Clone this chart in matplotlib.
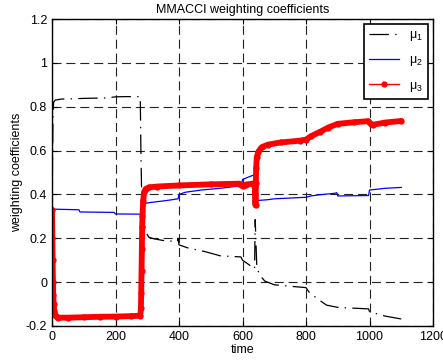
import matplotlib
matplotlib.use("Agg")
import matplotlib.pyplot as plt
import numpy as np

plt.rcParams['font.family'] = ['Liberation Sans', 'DejaVu Sans']
plt.rcParams['mathtext.fontset'] = 'custom'
plt.rcParams['mathtext.rm'] = 'Liberation Sans'
plt.rcParams['mathtext.it'] = 'Liberation Sans'
plt.rcParams['lines.scale_dashes'] = False

# mu_1 (black, dash-dot)
t1 = [0, 2, 3, 5, 10, 30, 60, 100, 170, 200, 230, 278, 280, 282, 285, 290, 295, 305,
      320, 350, 395, 397, 400, 430, 480, 530, 570, 595, 600, 620, 638, 640, 642, 645,
      653, 670, 700, 760, 800, 812, 840, 865, 900, 997, 1000, 1050, 1100]
mu1 = [0.33, 0.6, 0.75, 0.82, 0.83, 0.835, 0.836, 0.838, 0.84, 0.845, 0.846, 0.846, 0.6,
       0.43, 0.33, 0.27, 0.23, 0.205, 0.198, 0.19, 0.185, 0.2, 0.17, 0.155, 0.14, 0.12,
       0.117, 0.115, 0.1, 0.08, 0.06, 0.285, 0.2, 0.07, 0.035, 0.005, -0.012, -0.02,
       -0.025, -0.05, -0.08, -0.105, -0.115, -0.122, -0.135, -0.155, -0.168]

# mu_2 (blue)
t2 = [0, 85, 88, 195, 200, 283, 285, 288, 295, 320, 360, 397, 400, 420, 470, 530, 597,
      600, 620, 638, 640, 645, 680, 700, 800, 815, 840, 890, 897, 900, 997, 1000, 1050, 1100]
mu2 = [0.333, 0.33, 0.32, 0.318, 0.311, 0.31, 0.33, 0.35, 0.36, 0.365, 0.372, 0.38, 0.4,
       0.41, 0.42, 0.428, 0.44, 0.468, 0.48, 0.49, 0.37, 0.372, 0.376, 0.38, 0.387, 0.393,
       0.398, 0.405, 0.408, 0.393, 0.395, 0.42, 0.428, 0.432]

# mu_3 (red, with markers)
t3 = [0, 1, 2, 3, 4, 5, 7, 10, 15, 20, 50, 100, 150, 200, 250, 278, 280, 281, 282, 283,
      284, 285, 287, 290, 295, 305, 330, 400, 500, 590, 600, 610, 635, 638, 640, 641, 642,
      643, 645, 650, 660, 680, 720, 780, 800, 815, 845, 870, 900, 950, 995, 1005, 1012,
      1050, 1100]
mu3 = [0.33, 0.2, 0.1, 0.0, -0.06, -0.1, -0.13, -0.15, -0.158, -0.162, -0.162, -0.16,
       -0.158, -0.157, -0.155, -0.153, -0.12, -0.05, 0.05, 0.15, 0.25, 0.3, 0.37, 0.41,
       0.425, 0.432, 0.436, 0.441, 0.446, 0.449, 0.437, 0.445, 0.45, 0.44, 0.4, 0.35,
       0.45, 0.52, 0.57, 0.595, 0.615, 0.627, 0.637, 0.645, 0.65, 0.665, 0.686, 0.705,
       0.722, 0.729, 0.734, 0.72, 0.718, 0.728, 0.735]

xticks = [0, 200, 400, 600, 800, 1000, 1200]
yticks = [-0.2, 0, 0.2, 0.4, 0.6, 0.8, 1, 1.2]
ylabels = ['-0.2', '0', '0.2', '0.4', '0.6', '0.8', '1', '1.2']

fig = plt.figure(figsize=(4.43, 3.64), dpi=100)
ax = fig.add_axes([52 / 443, 1 - 326 / 364, 381 / 443, 307 / 364])

ax.plot(t1, mu1, color='black', lw=0.9, linestyle=(0, (14, 4.5, 1, 4.5)), label=r'$\mathregular{\mu_1}$')
ax.plot(t2, mu2, color='blue', lw=0.9, label=r'$\mathregular{\mu_2}$')
ax.plot(t3, mu3, color='red', lw=4.2, solid_capstyle='round', solid_joinstyle='round')
ax.plot(t3, mu3, color='red', lw=1, marker='o', markersize=3.5, label=r'$\mathregular{\mu_3}$')

ax.set_xlim(0, 1200)
ax.set_ylim(-0.2, 1.2)
ax.set_xticks(xticks)
ax.set_yticks(yticks)
ax.set_yticklabels(ylabels)
ax.tick_params(direction='in', length=3.5, top=True, right=True, labelsize=9)
ax.grid(True, color='#222222', linestyle=(0, (6.5, 3.5)), lw=0.8)
for s in ax.spines.values():
    s.set_linewidth(1.0)

ax.set_title('MMACCI weighting coefficients', fontsize=9, pad=4)
ax.set_xlabel('time', fontsize=9, labelpad=1)
ax.set_ylabel('weighting coefficients', fontsize=9, labelpad=2)

leg = ax.legend(loc='upper right', fontsize=9, fancybox=False, framealpha=1,
                edgecolor='black', borderaxespad=0.4, handlelength=2.4, labelspacing=0.9)
leg.get_frame().set_linewidth(1.2)

fig.savefig('out.png', dpi=100)
